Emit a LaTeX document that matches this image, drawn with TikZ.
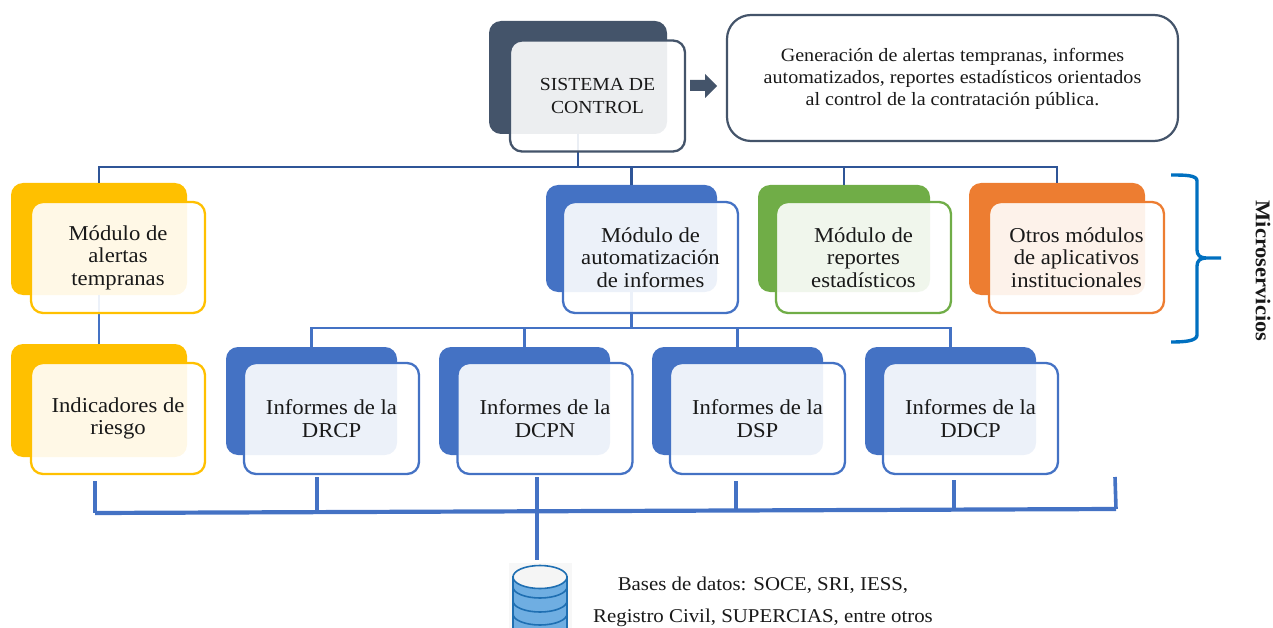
\documentclass[tikz,border=0pt]{standalone}
\usepackage{fontspec}
\setmainfont[FakeStretch=1.07]{Liberation Serif}
\definecolor{slate}{HTML}{44546A}
\definecolor{amber}{HTML}{FFC000}
\definecolor{bluec}{HTML}{4472C4}
\definecolor{greenc}{HTML}{70AD47}
\definecolor{orangec}{HTML}{ED7D31}
\definecolor{treeline}{HTML}{2F5597}
\definecolor{bracec}{HTML}{0070C0}
\definecolor{dbfill}{HTML}{6FAEE2}
\definecolor{dbline}{HTML}{1F6FB2}
\tikzset{
  backcard/.style={rectangle,rounded corners=12pt,fill=#1,inner sep=0pt,outer sep=0pt},
  frontcard/.style={rectangle,rounded corners=12pt,draw=#1,line width=2.3pt,fill=white,fill opacity=.9,draw opacity=1,text opacity=1,inner sep=0pt,outer sep=0pt,align=center,text=black!90,font=\fontsize{21.2}{22.5}\selectfont},
  treelink/.style={draw=treeline,line width=2.4pt},
  sublink/.style={draw=bluec,line width=2.2pt},
  buslink/.style={draw=bluec,line width=3.6pt},
  mainbus/.style={draw=bluec,line width=4.2pt},
  plainlabel/.style={inner sep=0pt,outer sep=0pt,align=center,text=black!90},
}
\begin{document}
\begin{tikzpicture}[x=1pt,y=-1pt]
\useasboundingbox (0,0) rectangle (1273,628);
% back cards
\node[backcard=slate,minimum width=178pt,minimum height=113pt] (sb) at (578,77.5) {};
\node[backcard=amber,minimum width=176pt,minimum height=112pt] (mab) at (99,239) {};
\node[backcard=bluec,minimum width=171pt,minimum height=107pt] (mib) at (631.5,238.5) {};
\node[backcard=greenc,minimum width=172pt,minimum height=107pt] (mrb) at (844,238.5) {};
\node[backcard=orangec,minimum width=176pt,minimum height=112pt] (mob) at (1057,239) {};
\node[backcard=amber,minimum width=176pt,minimum height=113pt] (irb) at (99,400.5) {};
\node[backcard=bluec,minimum width=171pt,minimum height=108pt] (i1b) at (311.5,401) {};
\node[backcard=bluec,minimum width=171pt,minimum height=108pt] (i2b) at (524.5,401) {};
\node[backcard=bluec,minimum width=171pt,minimum height=108pt] (i3b) at (737.5,401) {};
\node[backcard=bluec,minimum width=171pt,minimum height=108pt] (i4b) at (950.5,401) {};
% tree connectors
\coordinate (top) at (578,167);
\coordinate (sub) at (631.5,328);
\path[treelink] (sb.south) -- (top);
\path[treelink] (mab.north) |- (top) -| (mob.north);
\path[treelink] (top) -| (mib.north);
\path[treelink] (top) -| (mrb.north);
\path[sublink] (mab.south) -- (irb.north);
\path[sublink] (mib.south) -- (sub);
\path[sublink] (i1b.north) |- (sub);
\path[sublink] (i4b.north) |- (sub);
\path[sublink] (sub) -| (i2b.north);
\path[sublink] (sub) -| (i3b.north);
% front cards
\node[frontcard=slate,minimum width=175pt,minimum height=111pt,font=\fontsize{18.4}{22.5}\selectfont] (sf) at (597.5,96) {SISTEMA DE\\CONTROL};
\node[frontcard=amber,minimum width=174pt,minimum height=111pt] (maf) at (118,257.5) {Módulo de\\alertas\\tempranas};
\node[frontcard=bluec,minimum width=175pt,minimum height=111pt] (mif) at (650.5,257.5) {Módulo de\\automatización\\de informes};
\node[frontcard=greenc,minimum width=175pt,minimum height=111pt] (mrf) at (863.5,257.5) {Módulo de\\reportes\\estadísticos};
\node[frontcard=orangec,minimum width=175pt,minimum height=111pt] (mof) at (1076.5,257.5) {Otros módulos\\de aplicativos\\institucionales};
\node[frontcard=amber,minimum width=174pt,minimum height=111pt] (irf) at (118,418.5) {Indicadores de\\riesgo};
\node[frontcard=bluec,minimum width=175pt,minimum height=111pt] (i1f) at (331.5,418.5) {Informes de la\\DRCP};
\node[frontcard=bluec,minimum width=175pt,minimum height=111pt] (i2f) at (545,418.5) {Informes de la\\DCPN};
\node[frontcard=bluec,minimum width=175pt,minimum height=111pt] (i3f) at (757.5,418.5) {Informes de la\\DSP};
\node[frontcard=bluec,minimum width=175pt,minimum height=111pt] (i4f) at (970.5,418.5) {Informes de la\\DDCP};
% description box and arrow
\node[rectangle,rounded corners=24pt,draw=slate,line width=2.2pt,fill=white,minimum width=451pt,minimum height=126pt,inner sep=0pt,outer sep=0pt,text=black!90] (desc) at (952.5,78) {};
\node[plainlabel,font=\fontsize{18.8}{22}\selectfont] (desctext) at (952.5,79) {Generación de alertas tempranas, informes\\automatizados, reportes estadísticos orientados\\al control de la contratación pública.};
\fill[slate] (690,80) -- (705,80) -- (705,74) -- (717,86) -- (705,98) -- (705,91) -- (690,91) -- cycle;
% brace
\draw[bracec,line width=3.4pt] (1171,175) .. controls (1185,175) and (1197,175) .. (1197,181) -- (1197,250) .. controls (1197,255) and (1200,258) .. (1206,258) -- (1221,258) -- (1206,258) .. controls (1200,258) and (1197,261) .. (1197,266) -- (1197,335) .. controls (1197,341) and (1185,342) .. (1171,342);
\node[plainlabel,rotate=-90,font=\bfseries\fontsize{21}{22}\selectfont] (micro) at (1263,271) {Microservicios};
% bottom bus
\coordinate (busl) at (95,513);
\coordinate (busr) at (1116,509);
\coordinate (t0) at (95,481); \coordinate (t1) at (317,477); \coordinate (t2) at (537,477);
\coordinate (t3) at (736,481); \coordinate (t4) at (954,480); \coordinate (t5) at (1115,477);
\coordinate (b1) at (317,512); \coordinate (b3) at (736,511);
\coordinate (b4) at (954,510);
\coordinate (dbtop) at (537,560);
\path[mainbus] (busl) -- (busr);
\path[buslink] (t0) -- (busl);
\path[buslink] (t1) -- (b1);
\path[buslink] (t2) -- (dbtop);
\path[buslink] (t3) -- (b3);
\path[buslink] (t4) -- (b4);
\path[buslink] (t5) -- (busr);
% database
\fill[black!3] (509,563) rectangle (572,628);
\begin{scope}
\clip (509,563) rectangle (572,628);
\draw[dbline,line width=1.6pt,fill=dbfill] (513,577) -- (513,640) -- (567,640) -- (567,577) -- cycle;
\draw[dbline,line width=1.6pt] (513,587) arc[start angle=180,end angle=0,x radius=27,y radius=11];
\draw[dbline,line width=1.6pt] (513,601) arc[start angle=180,end angle=0,x radius=27,y radius=11];
\draw[dbline,line width=1.6pt] (513,614) arc[start angle=180,end angle=0,x radius=27,y radius=11];
\draw[dbline,line width=1.6pt,fill=black!4] (540,577) ellipse[x radius=27,y radius=11.5];
\end{scope}
% database label
\node[plainlabel,font=\fontsize{19.5}{22}\selectfont] (dbl1) at (763,585) {Bases de datos: SOCE, SRI, IESS,};
\node[plainlabel,font=\fontsize{19.5}{22}\selectfont] (dbl2) at (763,618) {Registro Civil, SUPERCIAS, entre otros};
\end{tikzpicture}
\end{document}
